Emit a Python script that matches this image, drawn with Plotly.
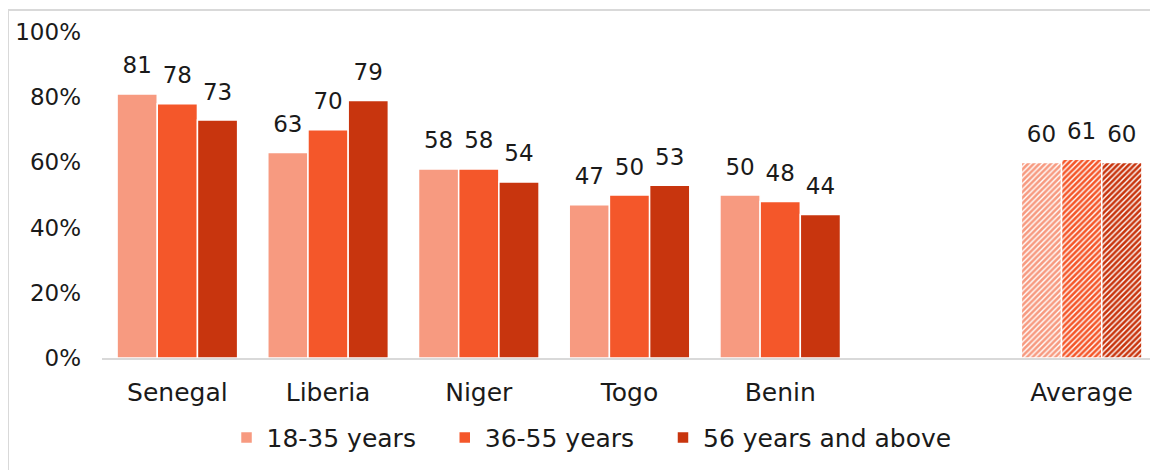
import plotly.graph_objects as go

# Kategoriler (" " = Benin ile Average arasindaki bos yer)
categories = ["Senegal", "Liberia", "Niger", "Togo", "Benin", " ", "Average"]
age_18_35 = [81, 63, 58, 47, 50, None, 60]
age_36_55 = [78, 70, 58, 50, 48, None, 61]
age_56_up = [73, 79, 54, 53, 44, None, 60]
series_names = ["18-35 years", "36-55 years", "56 years and above"]
y_ticks = [0, 20, 40, 60, 80, 100]
y_tick_labels = ["0%", "20%", "40%", "60%", "80%", "100%"]

COLORS = ["#F79A80", "#F4572A", "#C8350E"]
FONT = dict(family="'DejaVu Sans', sans-serif", color="#1a1a1a", size=23)
PAD = "\u00a0" * 3  # legend ogeleri arasi bosluk

# Average sutunu taranmis (hatched) gorunur
patterns = ["", "", "", "", "", "", "/"]

fig = go.Figure()
for i, (name, vals, col) in enumerate(zip(series_names, [age_18_35, age_36_55, age_56_up], COLORS)):
    fig.add_trace(go.Bar(
        x=categories, y=vals,
        name=name + (PAD if i < 2 else ""),
        offsetgroup=str(i),
        marker=dict(
            color=col,
            line=dict(color="white", width=1.5),
            pattern=dict(shape=patterns, fgcolor=col, bgcolor="white",
                         fgopacity=1, size=4, solidity=0.65),
        ),
    ))
    # veri etiketleri: barin biraz ustunde
    fig.add_trace(go.Scatter(
        x=categories, y=vals, offsetgroup=str(i),
        mode="markers+text", showlegend=False, hoverinfo="skip",
        marker=dict(size=22, opacity=0),
        text=[("" if v is None else str(v)) for v in vals],
        textposition="top center",
        textfont=dict(size=23, color="#1a1a1a"),
        cliponaxis=False,
    ))

fig.update_layout(
    width=1158, height=470,
    paper_bgcolor="white", plot_bgcolor="white",
    font=FONT,
    barmode="group", bargap=0.2, bargroupgap=0,
    scattermode="group", scattergap=0.2,
    margin=dict(l=94, r=9, t=24, b=120),
    xaxis=dict(type="category", showline=True, linecolor="#d9d9d9", linewidth=2,
               ticks="", showgrid=False, automargin=False, ticklabelstandoff=11,
               tickfont=dict(size=25)),
    yaxis=dict(range=[0, 100], tickvals=y_ticks, ticktext=y_tick_labels,
               showgrid=False, zeroline=False, ticks="", automargin=False,
               ticklabelstandoff=20),
    legend=dict(orientation="h", x=0.464, xanchor="center", y=-0.245,
                yanchor="middle", itemwidth=30, traceorder="normal",
                font=dict(size=25)),
    showlegend=True,
    shapes=[dict(type="rect", xref="paper", yref="paper",
                 x0=-0.0891, x1=1.05, y0=-0.5, y1=1.0675,
                 line=dict(color="#d9d9d9", width=2), layer="below")],
)

fig.write_html("out.html")
